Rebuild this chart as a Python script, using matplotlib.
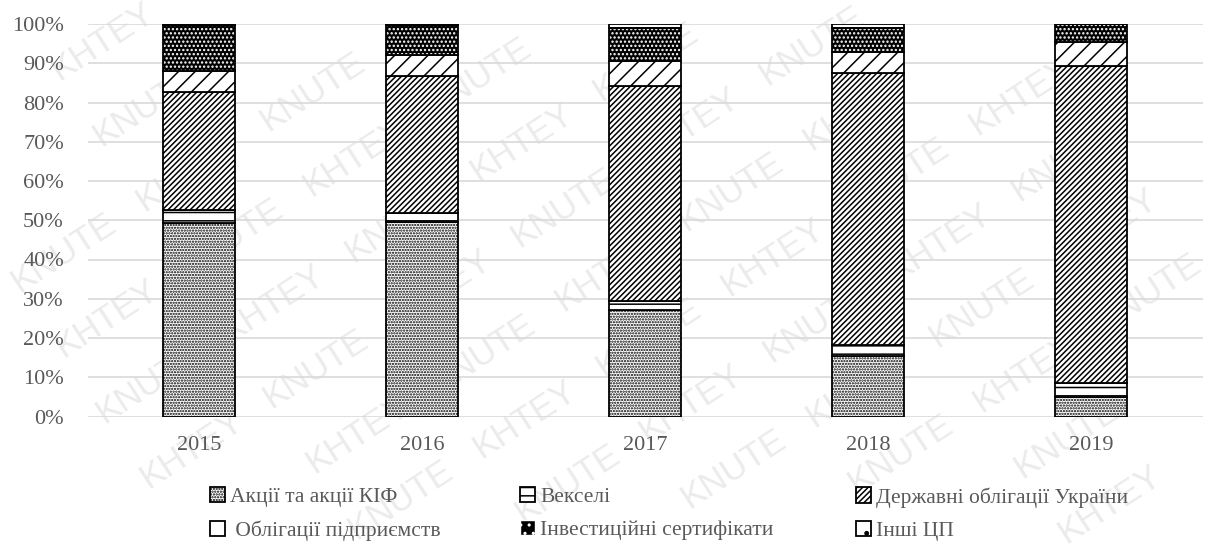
import numpy as np
import matplotlib
matplotlib.use("Agg")
import matplotlib.pyplot as plt
from matplotlib.patches import Patch

plt.rcParams['font.family'] = ['Liberation Serif', 'DejaVu Serif']
plt.rcParams['hatch.linewidth'] = 1.1

years = ['2015', '2016', '2017', '2018', '2019']

# shares of the portfolio, %
akcii = [49.2, 49.6, 27.1, 15.4, 5.0]
vekseli = [3.4, 2.2, 2.3, 2.8, 3.5]
derzh = [30.1, 35.0, 54.8, 69.4, 80.9]
oblig = [5.3, 5.3, 6.4, 5.2, 5.9]
invest = [11.7, 7.6, 8.3, 6.2, 4.7]
inshi = [0.3, 0.3, 1.1, 1.0, 0.0]

labels = ['Акції та акції КІФ', 'Векселі', 'Державні облігації України',
          ' Облігації підприємств', 'Інвестиційні сертифікати', 'Інші ЦП']

grey = '#595959'
W, H = 1212, 546

fig = plt.figure(figsize=(W / 100, H / 100), dpi=100)
ax = fig.add_axes([87.5 / W, 1 - 416.5 / H, 1115 / W, 392.5 / H])
ax.patch.set_alpha(0)

# faint diagonal watermark words behind the plot
ang = np.deg2rad(33)
d = np.array([np.cos(ang), np.sin(ang)])
n = np.array([-np.sin(ang), np.cos(ang)])
for r in range(-14, 14):
    for k in range(-14, 14):
        px, py = np.array([W / 2, H / 2]) + k * 148 * d + r * 78 * n
        if 55 < px < W - 55 and 35 < py < H - 35:
            word = 'KHTEY' if (k + r) % 2 == 0 else 'KNUTE'
            fig.text(px / W, py / H, word, rotation=33, ha='center', va='center',
                     fontsize=25, color='#ebebeb', family='Liberation Sans',
                     zorder=-5)

x = np.arange(len(years))
w = 0.323
series = [akcii, vekseli, derzh, oblig, invest, inshi]
hatches = ['......', '--', '//////', '//', '....', '.']
bottom = np.zeros(len(years))
handles = []
for i, vals in enumerate(series):
    v = np.array(vals) / 100
    if i == 4:
        ax.bar(x, v, w, bottom=bottom, color='black', edgecolor='white',
               hatch=hatches[i], linewidth=0, zorder=2)
        ax.bar(x, v, w, bottom=bottom, fill=False, edgecolor='black',
               linewidth=1.3, zorder=3)
        handles.append(Patch(facecolor='black', edgecolor='white', hatch='..'))
    else:
        ax.bar(x, v, w, bottom=bottom, color='white', edgecolor='black',
               hatch=hatches[i], linewidth=1.3, zorder=2)
        handles.append(Patch(facecolor='white', edgecolor='black',
                             hatch=hatches[i] if i != 3 else '', linewidth=1.3))
    bottom += v

ax.set_ylim(0, 1)
ax.set_xlim(-0.5, 4.5)
ticks = np.arange(0, 1.01, 0.1)
ax.set_yticks(ticks)
ax.set_yticklabels([f'{int(round(t * 100))}%' for t in ticks])
ax.set_xticks(x)
ax.set_xticklabels(years)
ax.yaxis.grid(True, color='#d9d9d9', linewidth=1.2, zorder=0)
ax.set_axisbelow(True)
for s in ax.spines.values():
    s.set_visible(False)
ax.tick_params(axis='both', length=0, labelsize=16, labelcolor=grey)
ax.tick_params(axis='y', pad=17)
ax.tick_params(axis='x', pad=14)

# legend laid out in three columns of two rows
cols = [(210, [0, 3]), (520, [1, 4]), (856, [2, 5])]
for xpx, idx in cols:
    leg = fig.legend([handles[j] for j in idx], [labels[j] for j in idx],
                     loc='upper left', bbox_to_anchor=(xpx / W, 1 - 487 / H),
                     frameon=False, fontsize=15.5, handlelength=0.7, handleheight=0.7,
                     handletextpad=0.25, labelspacing=0.62, borderaxespad=0,
                     borderpad=0)
    for t in leg.get_texts():
        t.set_color(grey)

fig.savefig('out.png', dpi=100)
